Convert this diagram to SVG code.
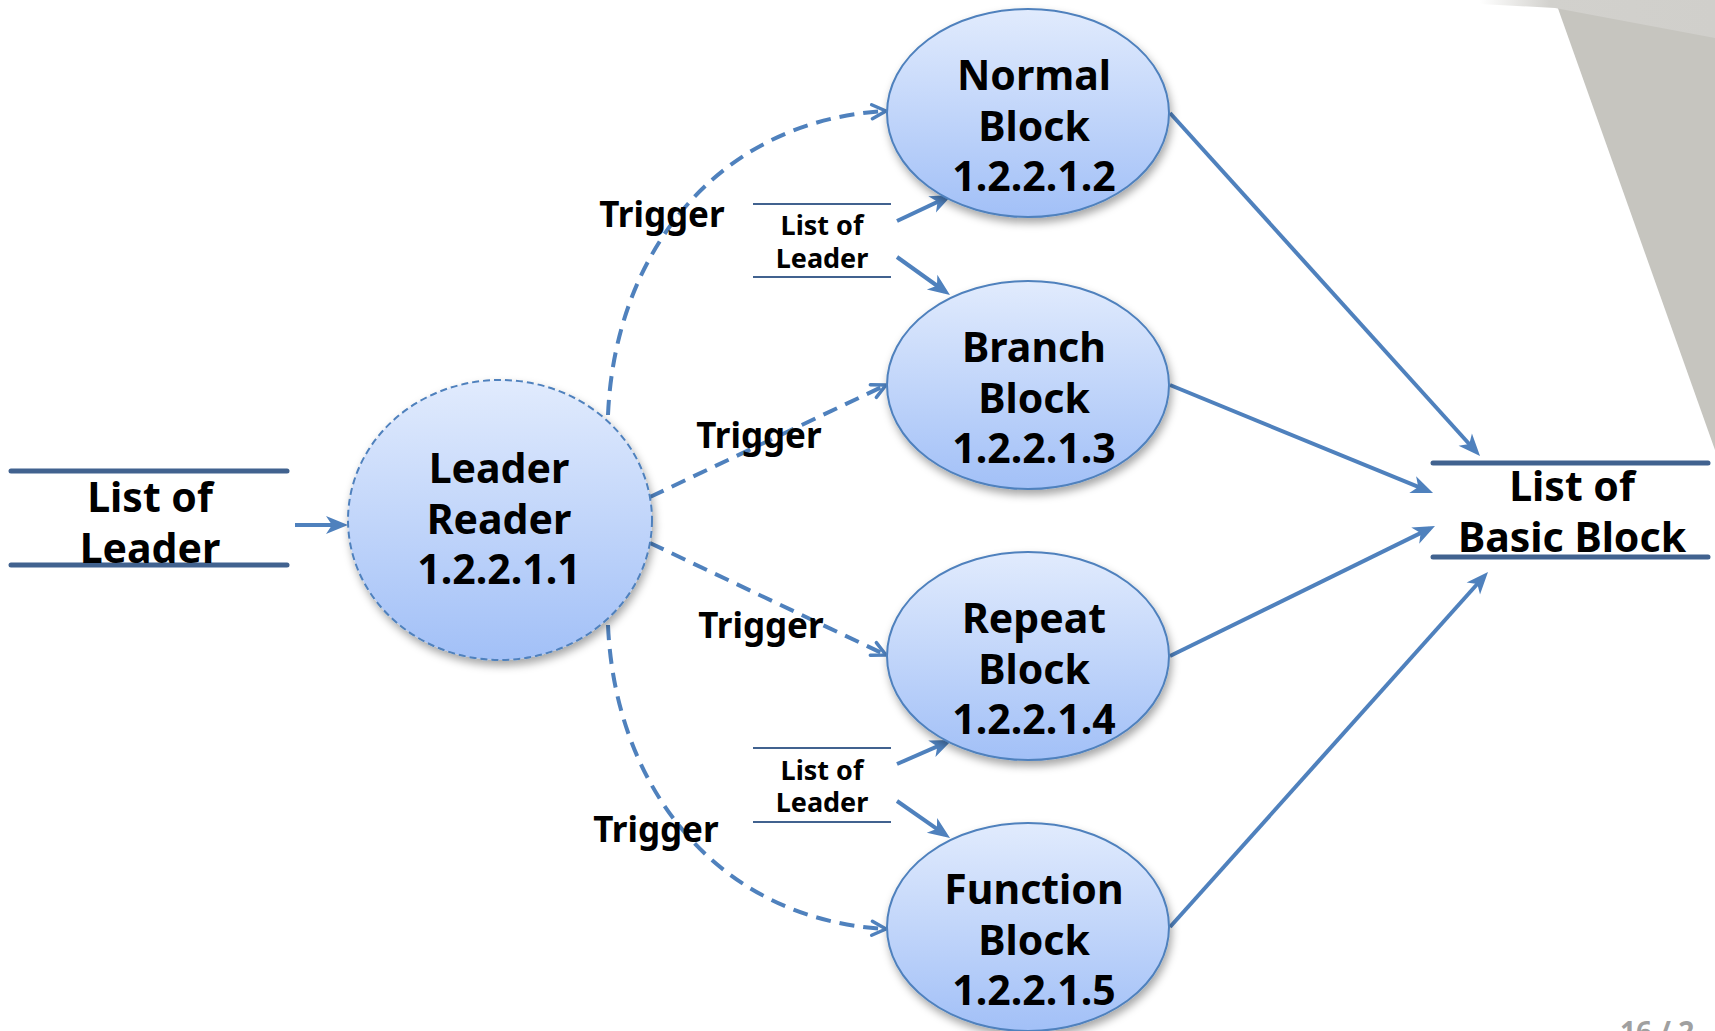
<svg xmlns="http://www.w3.org/2000/svg" width="1715" height="1031" viewBox="0 0 1715 1031">
<style>
  .lbl { font-family: "Noto Sans", "Open Sans", "Liberation Sans", sans-serif; font-weight: bold; fill: #000; text-anchor: middle; }
  .big { font-size: 41px; }
  .trg { font-size: 35px; }
  .sm { font-size: 27px; }
  .node { fill: url(#bubble); stroke: #4f81bd; stroke-width: 2; filter: url(#shadow); }
  .dnode { fill: url(#bubble); stroke: #4f81bd; stroke-width: 2; stroke-dasharray: 7 4; filter: url(#shadow); }
  .store { stroke: #41628f; stroke-width: 5; stroke-linecap: round; fill: none; }
  .sstore { stroke: #41628f; stroke-width: 2; fill: none; }
  .flow { stroke: #4f81bd; stroke-width: 4; fill: none; marker-end: url(#stealth); }
  .trig { stroke: #4f81bd; stroke-width: 4; fill: none; stroke-dasharray: 15 9; marker-end: url(#open); }
</style>
<defs>
  <linearGradient id="bubble" x1="0" y1="0" x2="0" y2="1">
    <stop offset="0" stop-color="#e1ebfd"/>
    <stop offset="1" stop-color="#a2c0f7"/>
  </linearGradient>
  <filter id="shadow" x="-20%" y="-20%" width="140%" height="150%">
    <feDropShadow dx="2" dy="5" stdDeviation="4" flood-color="#000" flood-opacity="0.35"/>
  </filter>
  <marker id="stealth" markerUnits="userSpaceOnUse" viewBox="0 0 22 18" refX="16" refY="9" markerWidth="22" markerHeight="18" orient="auto" overflow="visible">
    <path d="M0,0 L22,9 L0,18 L6,9 Z" fill="#4f81bd"/>
  </marker>
  <marker id="open" markerUnits="userSpaceOnUse" viewBox="0 0 18 18" refX="16" refY="9" markerWidth="18" markerHeight="18" orient="auto" overflow="visible">
    <path d="M2,2 L16,9 L2,16" fill="none" stroke="#4f81bd" stroke-width="3.5" stroke-linecap="round" stroke-linejoin="round"/>
  </marker>
  <linearGradient id="band" x1="0" y1="0" x2="1" y2="0">
    <stop offset="0" stop-color="#d2d1cd" stop-opacity="0"/>
    <stop offset="0.3" stop-color="#d2d1cd"/>
    <stop offset="1" stop-color="#d0cfcb"/>
  </linearGradient>
</defs>

<g id="background">
  <polygon points="1555,0 1715,0 1715,450" fill="#c6c5bf"/>
  <polygon points="1480,0 1715,0 1715,38 1555,8 1480,4" fill="url(#band)"/>
  <text x="1620" y="1042" font-family="'Noto Sans', 'Liberation Sans', sans-serif" font-weight="bold" font-size="28" fill="#a0a0a0">16 / 2</text>
</g>

<g id="connectors">
  <path class="flow" d="M295,525 L342,525"/>
  <path class="trig" d="M608,415 C615,250 720,120 886,111"/>
  <path class="trig" d="M650,497 L886,385"/>
  <path class="trig" d="M650,543 L886,655"/>
  <path class="trig" d="M608,625 C615,790 720,920 886,929"/>
  <path class="flow" d="M897,221 L946.6,197.6"/>
  <path class="flow" d="M897,257 L945.1,291.5"/>
  <path class="flow" d="M897,764 L946.5,742.4"/>
  <path class="flow" d="M897,801 L945.1,834.6"/>
  <path class="flow" d="M1170,113 L1476,451.5"/>
  <path class="flow" d="M1170,385 L1427.5,490.7"/>
  <path class="flow" d="M1170,656 L1429.6,528.6"/>
  <path class="flow" d="M1170,927 L1484,576.5"/>
</g>

<g id="list-of-leader-in">
  <line class="store" x1="11" y1="471" x2="287" y2="471"/>
  <line class="store" x1="11" y1="565" x2="287" y2="565"/>
  <text class="lbl big" x="150" y="512">List of</text>
  <text class="lbl big" x="150" y="563">Leader</text>
</g>

<g id="leader-reader">
  <ellipse class="dnode" cx="500" cy="520" rx="152" ry="140"/>
  <text class="lbl big" x="499" y="483">Leader</text>
  <text class="lbl big" x="499" y="534">Reader</text>
  <text class="lbl big" x="499" y="584">1.2.2.1.1</text>
</g>

<g id="normal-block">
  <ellipse class="node" cx="1028" cy="113" rx="141" ry="104"/>
  <text class="lbl big" x="1034" y="90">Normal</text>
  <text class="lbl big" x="1034" y="141">Block</text>
  <text class="lbl big" x="1034" y="191">1.2.2.1.2</text>
</g>

<g id="branch-block">
  <ellipse class="node" cx="1028" cy="385" rx="141" ry="104"/>
  <text class="lbl big" x="1034" y="362">Branch</text>
  <text class="lbl big" x="1034" y="413">Block</text>
  <text class="lbl big" x="1034" y="463">1.2.2.1.3</text>
</g>

<g id="repeat-block">
  <ellipse class="node" cx="1028" cy="656" rx="141" ry="104"/>
  <text class="lbl big" x="1034" y="633">Repeat</text>
  <text class="lbl big" x="1034" y="684">Block</text>
  <text class="lbl big" x="1034" y="734">1.2.2.1.4</text>
</g>

<g id="function-block">
  <ellipse class="node" cx="1028" cy="927" rx="141" ry="104"/>
  <text class="lbl big" x="1034" y="904">Function</text>
  <text class="lbl big" x="1034" y="955">Block</text>
  <text class="lbl big" x="1034" y="1005">1.2.2.1.5</text>
</g>

<g id="list-of-leader-upper">
  <line class="sstore" x1="753" y1="204" x2="891" y2="204"/>
  <line class="sstore" x1="753" y1="277" x2="891" y2="277"/>
  <text class="lbl sm" x="822" y="235">List of</text>
  <text class="lbl sm" x="822" y="268">Leader</text>
</g>

<g id="list-of-leader-lower">
  <line class="sstore" x1="753" y1="748" x2="891" y2="748"/>
  <line class="sstore" x1="753" y1="822" x2="891" y2="822"/>
  <text class="lbl sm" x="822" y="780">List of</text>
  <text class="lbl sm" x="822" y="812">Leader</text>
</g>

<g id="list-of-basic-block">
  <line class="store" x1="1433" y1="463" x2="1708" y2="463"/>
  <line class="store" x1="1433" y1="557" x2="1708" y2="557"/>
  <text class="lbl big" x="1572" y="501">List of</text>
  <text class="lbl big" x="1572" y="552">Basic Block</text>
</g>

<g id="trigger-labels">
  <text class="lbl trg" x="662" y="227">Trigger</text>
  <text class="lbl trg" x="759" y="448">Trigger</text>
  <text class="lbl trg" x="761" y="638">Trigger</text>
  <text class="lbl trg" x="656" y="842">Trigger</text>
</g>
</svg>
